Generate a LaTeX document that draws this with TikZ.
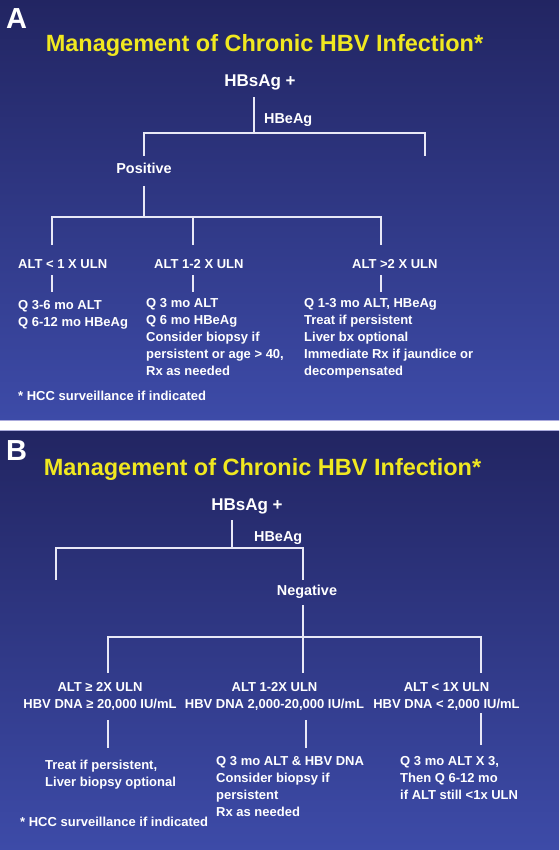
\documentclass[tikz,border=0pt]{standalone}
\usepackage{fontspec}
\setmainfont{Liberation Sans}
\definecolor{navytop}{RGB}{34,37,98}
\definecolor{navymid}{RGB}{49,58,148}
\definecolor{navybot}{RGB}{61,75,168}
\definecolor{titleyellow}{RGB}{240,232,32}
\definecolor{linkwhite}{RGB}{232,232,246}
\definecolor{bandedge}{RGB}{170,170,220}

\begin{document}
\begin{tikzpicture}[x=1pt,y=-1pt,
    bodytxt/.style={text=white,inner sep=0pt,font=\bfseries\fontsize{13}{17}\selectfont},
    headtxt/.style={bodytxt,font=\bfseries\fontsize{17}{20}\selectfont},
    branchtxt/.style={bodytxt,font=\bfseries\fontsize{14.4}{17}\selectfont},
    paneltag/.style={bodytxt,font=\bfseries\fontsize{29}{32}\selectfont},
    titletxt/.style={inner sep=0pt,text=titleyellow,font=\bfseries\fontsize{23.5}{26}\selectfont},
    link/.style={draw=linkwhite,line width=1.6pt}]
    \useasboundingbox (0,0) rectangle (559,850);
    \fill[white] (0,0) rectangle (559,850);
    \shade[top color=navytop,middle color=navymid,bottom color=navybot] (0,0) rectangle (559,420);
    \shade[top color=navytop,middle color=navymid,bottom color=navybot] (0,431) rectangle (559,850);
    \draw[bandedge,line width=1pt] (0,420.5) -- (559,420.5);
    \draw[bandedge,line width=1pt] (0,430.5) -- (559,430.5);

    % panel A
    \node[paneltag,anchor=base west] (tagA) at (6,29) {A};
    \node[titletxt,anchor=base] (titleA) at (264.5,52) {Management of Chronic HBV Infection*};
    \node[headtxt,anchor=base] (hbsA) at (260,87) {HBsAg +};
    \node[branchtxt,anchor=base west] (eagA) at (264,124) {HBeAg};
    \node[branchtxt,anchor=base] (posA) at (144,174) {Positive};
    \node[bodytxt,anchor=base west] (altA1) at (18,268) {ALT < 1 X ULN};
    \node[bodytxt,anchor=base west] (altA2) at (154,268) {ALT 1-2 X ULN};
    \node[bodytxt,anchor=base west] (altA3) at (352,268) {ALT >2 X ULN};
    \node[bodytxt,anchor=north west,align=left] (qA1) at (18,300.5) {Q 3-6 mo ALT\\Q 6-12 mo HBeAg};
    \node[bodytxt,anchor=north west,align=left] (qA2) at (146,298.5) {Q 3 mo ALT\\Q 6 mo HBeAg\\Consider biopsy if\\persistent or age > 40,\\Rx as needed};
    \node[bodytxt,anchor=north west,align=left] (qA3) at (304,298.5) {Q 1-3 mo ALT, HBeAg\\Treat if persistent\\Liver bx optional\\Immediate Rx if jaundice or\\decompensated};
    \node[bodytxt,anchor=base west] (hccA) at (18,400) {* HCC surveillance if indicated};

    \coordinate (aS) at (254,133);
    \coordinate (aR) at (425,156);
    \coordinate (aC1) at (52,217);
    \coordinate (aC2) at (193,217);
    \coordinate (aC3) at (381,217);
    \draw[link,shorten <=6.4pt] (hbsA.south -| aS) -- (aS);
    \draw[link,shorten <=7.7pt] (posA.north) |- (aS) -| (aR);
    \draw[link,shorten <=12pt] (posA.south) -- (posA.south |- aC1);
    \draw[link,shorten <=13.7pt,shorten >=13.7pt] (altA1.north -| aC1) -- (aC1) -- (aC3) -- (altA3.north -| aC3);
    \draw[link,shorten >=13.7pt] (aC2) -- (altA2.north -| aC2);
    \draw[link,shorten <=7pt,shorten >=8.5pt] (altA1.south -| aC1) -- (qA1.north -| aC1);
    \draw[link,shorten <=7pt,shorten >=6.5pt] (altA2.south -| aC2) -- (qA2.north -| aC2);
    \draw[link,shorten <=7pt,shorten >=6.5pt] (altA3.south -| aC3) -- (qA3.north -| aC3);

    % panel B
    \node[paneltag,anchor=base west] (tagB) at (6,460) {B};
    \node[titletxt,anchor=base] (titleB) at (262.5,475) {Management of Chronic HBV Infection*};
    \node[headtxt,anchor=base] (hbsB) at (247,510) {HBsAg +};
    \node[branchtxt,anchor=base west] (eagB) at (254,541) {HBeAg};
    \node[branchtxt,anchor=base] (negB) at (307,595) {Negative};
    \node[bodytxt,anchor=north,align=center] (altB1) at (100,682) {ALT ≥ 2X ULN\\HBV DNA ≥ 20,000 IU/mL};
    \node[bodytxt,anchor=north,align=center] (altB2) at (274.5,682) {ALT 1-2X ULN\\HBV DNA 2,000-20,000 IU/mL};
    \node[bodytxt,anchor=north,align=center] (altB3) at (446.5,682) {ALT < 1X ULN\\HBV DNA < 2,000 IU/mL};
    \node[bodytxt,anchor=north west,align=left] (txB1) at (45,760) {Treat if persistent,\\Liver biopsy optional};
    \node[bodytxt,anchor=north west,align=left] (txB2) at (216,756) {Q 3 mo ALT \& HBV DNA\\Consider biopsy if\\persistent\\Rx as needed};
    \node[bodytxt,anchor=north west,align=left] (txB3) at (400,756) {Q 3 mo ALT X 3,\\Then Q 6-12 mo\\if ALT still <1x ULN};
    \node[bodytxt,anchor=base west] (hccB) at (20,826) {* HCC surveillance if indicated};

    \coordinate (bS) at (232,548);
    \coordinate (bL) at (56,580);
    \coordinate (bC1) at (108,637);
    \coordinate (bC2) at (303,637);
    \coordinate (bC3) at (481,637);
    \coordinate (bD2) at (306,720);
    \draw[link,shorten <=6.4pt] (hbsB.south -| bS) -- (bS);
    \draw[link,shorten >=4.7pt] (bL) |- (bS) -| (negB.north -| bC2);
    \draw[link,shorten <=7pt] (negB.south -| bC2) -- (bC2);
    \draw[link,shorten <=9pt,shorten >=9pt] (altB1.north -| bC1) -- (bC1) -- (bC3) -- (altB3.north -| bC3);
    \draw[link,shorten >=9pt] (bC2) -- (altB2.north -| bC2);
    \draw[link,shorten <=10pt,shorten >=12pt] (altB1.south -| bC1) -- (txB1.north -| bC1);
    \draw[link,shorten <=10pt,shorten >=8pt] (altB2.south -| bD2) -- (txB2.north -| bD2);
    \draw[link,shorten <=3pt,shorten >=11pt] (altB3.south -| bC3) -- (txB3.north -| bC3);
\end{tikzpicture}
\end{document}
